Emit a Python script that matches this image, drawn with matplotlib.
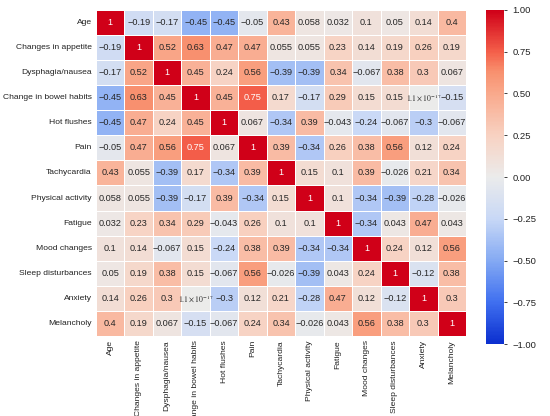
import numpy as np
import matplotlib
matplotlib.use("Agg")
import matplotlib.pyplot as plt
from matplotlib.colors import LinearSegmentedColormap
import seaborn as sns

labels = ["Age", "Changes in appetite", "Dysphagia/nausea", "Change in bowel habits",
          "Hot flushes", "Pain", "Tachycardia", "Physical activity", "Fatigue",
          "Mood changes", "Sleep disturbances", "Anxiety", "Melancholy"]

age = [1, -0.19, -0.17, -0.45, -0.45, -0.05, 0.43, 0.058, 0.032, 0.1, 0.05, 0.14, 0.4]
appetite = [-0.19, 1, 0.52, 0.63, 0.47, 0.47, 0.055, 0.055, 0.23, 0.14, 0.19, 0.26, 0.19]
dysphagia = [-0.17, 0.52, 1, 0.45, 0.24, 0.56, -0.39, -0.39, 0.34, -0.067, 0.38, 0.3, 0.067]
bowel = [-0.45, 0.63, 0.45, 1, 0.45, 0.75, 0.17, -0.17, 0.29, 0.15, 0.15, 1.1e-17, -0.15]
flushes = [-0.45, 0.47, 0.24, 0.45, 1, 0.067, -0.34, 0.39, -0.043, -0.24, -0.067, -0.3, -0.067]
pain = [-0.05, 0.47, 0.56, 0.75, 0.067, 1, 0.39, -0.34, 0.26, 0.38, 0.56, 0.12, 0.24]
tachy = [0.43, 0.055, -0.39, 0.17, -0.34, 0.39, 1, 0.15, 0.1, 0.39, -0.026, 0.21, 0.34]
physical = [0.058, 0.055, -0.39, -0.17, 0.39, -0.34, 0.15, 1, 0.1, -0.34, -0.39, -0.28, -0.026]
fatigue = [0.032, 0.23, 0.34, 0.29, -0.043, 0.26, 0.1, 0.1, 1, -0.34, 0.043, 0.47, 0.043]
mood = [0.1, 0.14, -0.067, 0.15, -0.24, 0.38, 0.39, -0.34, -0.34, 1, 0.24, 0.12, 0.56]
sleep = [0.05, 0.19, 0.38, 0.15, -0.067, 0.56, -0.026, -0.39, 0.043, 0.24, 1, -0.12, 0.38]
anxiety = [0.14, 0.26, 0.3, 1.1e-17, -0.3, 0.12, 0.21, -0.28, 0.47, 0.12, -0.12, 1, 0.3]
melancholy = [0.4, 0.19, 0.067, -0.15, -0.067, 0.24, 0.34, -0.026, 0.043, 0.56, 0.38, 0.3, 1]

corr = np.array([age, appetite, dysphagia, bowel, flushes, pain, tachy, physical,
                 fatigue, mood, sleep, anxiety, melancholy])

def fmt_val(v):
    # small numbers shown as a x 10^n like the original
    s = format(v, ".2g")
    if "e" in s:
        m, e = s.split("e")
        return r"$%s\times10^{%d}$" % (m, int(e))
    return s.replace("-", "\u2212")

# colour stops (value -> colour)
stops = [(-1, "#0b2fcf"), (-0.75, "#4070f0"), (-0.5, "#85aaf3"), (-0.25, "#c8d8f6"),
         (0, "#ebebeb"), (0.25, "#f8d2c2"), (0.5, "#f9a98c"), (0.63, "#f8916f"),
         (0.75, "#f4604a"), (1, "#d00018")]
cmap = LinearSegmentedColormap.from_list("rb", [((v + 1) / 2, c) for v, c in stops])

plt.rcParams["font.family"] = ["Liberation Sans", "DejaVu Sans"]
plt.rcParams["mathtext.fontset"] = "stix"

fig = plt.figure(figsize=(5.5, 4.16), dpi=100)
ax = fig.add_axes([0.1745, 0.1923, 0.673, 0.784])
cax = fig.add_axes([0.8836, 0.173, 0.0327, 0.803])

sns.heatmap(corr, ax=ax, cbar_ax=cax, cmap=cmap, vmin=-1, vmax=1,
            annot=False, linewidths=0.5, linecolor="white",
            xticklabels=labels, yticklabels=labels)

# cell numbers
n = len(labels)
for i in range(n):
    for j in range(n):
        v = corr[i, j]
        txt = fmt_val(v)
        col = "white" if abs(v) >= 0.7 else "#262626"
        size = 5.6 if "times" in txt else 6.6
        ax.text(j + 0.5, i + 0.5, txt, ha="center", va="center",
                fontsize=size, color=col)

ax.tick_params(axis="both", length=0, pad=3)
ax.set_xticklabels(labels, rotation=90, fontsize=6.1, color="#222222")
ax.set_yticklabels(labels, rotation=0, fontsize=6.1, color="#222222")

cax.set_yticks([-1, -0.75, -0.5, -0.25, 0, 0.25, 0.5, 0.75, 1])
cax.set_yticklabels(["\u22121.00", "\u22120.75", "\u22120.50", "\u22120.25", "0.00",
                     "0.25", "0.50", "0.75", "1.00"])
cax.tick_params(labelsize=6.8, length=2.5, width=0.6, colors="#222222")

fig.savefig("out.png", dpi=100)
